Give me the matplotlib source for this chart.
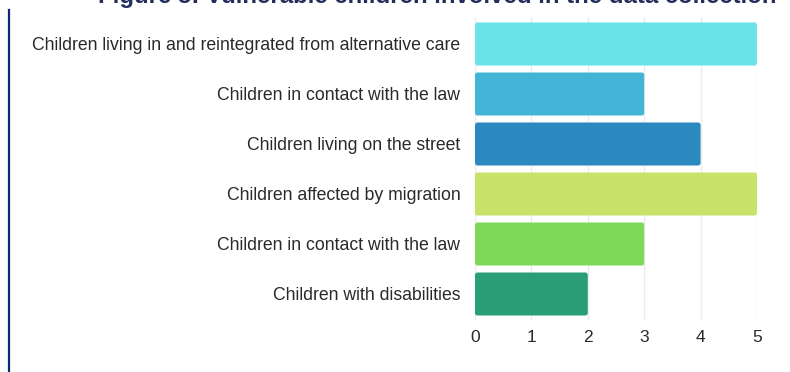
import matplotlib
matplotlib.use("Agg")
import matplotlib.pyplot as plt
from matplotlib.patches import FancyBboxPatch

categories = [
    "Children living in and reintegrated from alternative care",
    "Children in contact with the law",
    "Children living on the street",
    "Children affected by migration",
    "Children in contact with the law",
    "Children with disabilities",
]
values = [5, 3, 4, 5, 3, 2]
colors = ["#6AE3E8", "#42B5D6", "#2B89BF", "#C9E26A", "#7DD957", "#2A9E77"]
xticks = [0, 1, 2, 3, 4, 5]
title = "Figure 5: Vulnerable children involved in the data collection"

plt.rcParams['font.family'] = ['Liberation Sans', 'DejaVu Sans']

W, H = 790, 372
fig = plt.figure(figsize=(W / 100, H / 100), dpi=100)
ax = fig.add_axes([475 / W, 1 - 320 / H, (757 - 475) / W, (320 - 17) / H])

ypos = list(range(len(categories)))
bars = ax.barh(ypos, values, height=0.86, color=colors, zorder=2)

ax.set_xlim(0, 5)
ax.set_ylim(5.52, -0.54)

# rounded corners: replace each bar rectangle by a rounded patch of same geometry
for b in bars:
    x0, y0 = b.get_x(), b.get_y()
    w, h = b.get_width(), b.get_height()
    p = FancyBboxPatch((x0, y0), w, h,
                       boxstyle="round,pad=0,rounding_size=0.045",
                       mutation_aspect=1.13,
                       facecolor=b.get_facecolor(), edgecolor='none', zorder=2)
    ax.add_patch(p)
    b.set_visible(False)

ax.set_yticks(ypos)
ax.set_yticklabels(categories, fontsize=12.7, color="#2A2A2A")
ax.set_xticks(xticks)
ax.set_xticklabels([str(t) for t in xticks], fontsize=12.5, color="#2A2A2A")
ax.tick_params(axis='both', length=0)
ax.tick_params(axis='y', pad=10.5)
ax.tick_params(axis='x', pad=7)
ax.xaxis.grid(True, color="#EBEBEB", linewidth=1, zorder=0)
ax.set_axisbelow(True)
for s in ax.spines.values():
    s.set_visible(False)

fig.text(777 / W, 1 - 3 / H, title, ha='right', va='baseline',
         fontsize=17.3, fontweight='bold', color="#252D5C")

fig.add_artist(plt.Line2D([8.5 / W, 8.5 / W], [0, 1 - 10 / H],
                          color="#0B2A6F", linewidth=1.6, transform=fig.transFigure))

fig.savefig("out.png", dpi=100)
